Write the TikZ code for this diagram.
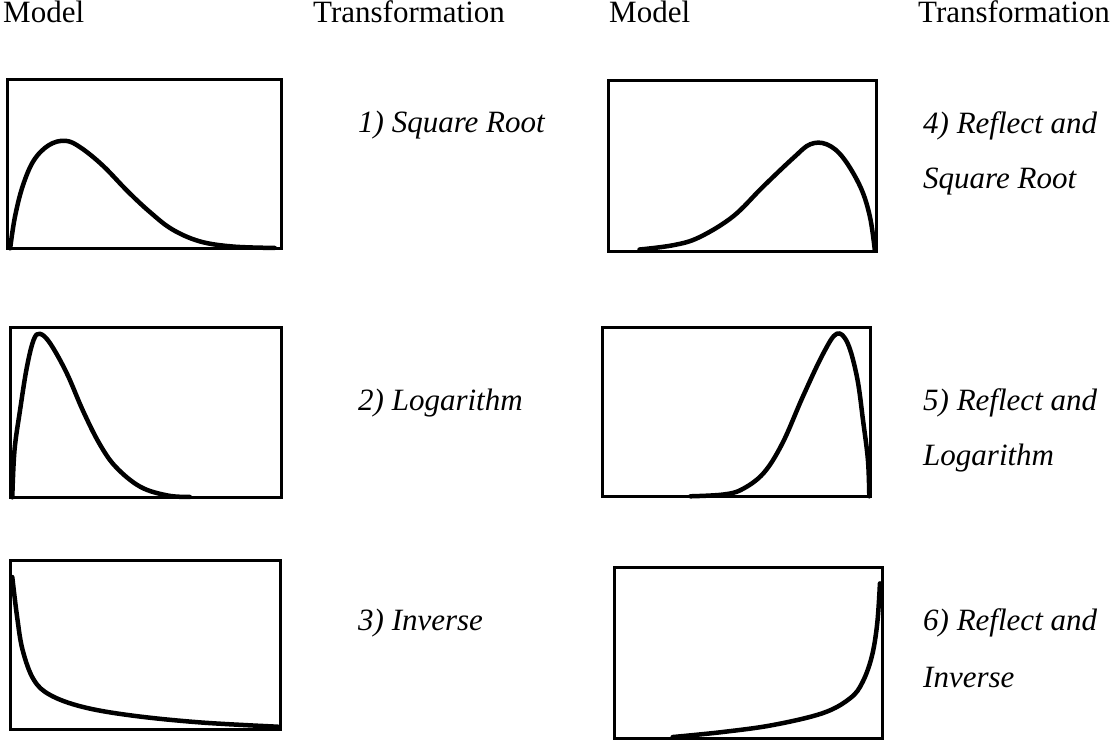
\documentclass[tikz,border=0pt]{standalone}
\usepackage{fontspec}
\setmainfont{Liberation Serif}
\begin{document}
\begin{tikzpicture}[x=1pt,y=-1pt,
  lbl/.style={anchor=base west, inner sep=0pt, font=\fontsize{31}{37}\selectfont},
  ital/.style={anchor=base west, inner sep=0pt, font=\fontsize{31}{37}\selectfont\itshape},
  frame/.style={line width=3pt},
  curve/.style={line width=4.5pt, line join=round, line cap=round}]
\useasboundingbox (0,0) rectangle (1117,744);
\fill[white] (0,0) rectangle (1117,744);

% headings
\node[lbl] (m1) at (3,23) {Model};
\node[lbl] (t1) at (313,23) {Transformation};
\node[lbl] (m2) at (609,23) {Model};
\node[lbl] (t2) at (918,23) {Transformation};

% labels
\node[ital] (l1) at (358,132) {1) Square Root};
\node[ital] (l2) at (358,410) {2) Logarithm};
\node[ital] (l3) at (358,630) {3) Inverse};
\node[ital] (l4a) at (923,133) {4) Reflect and};
\node[ital] (l4b) at (923,188) {Square Root};
\node[ital] (l5a) at (923,410) {5) Reflect and};
\node[ital] (l5b) at (923,465) {Logarithm};
\node[ital] (l6a) at (923,630) {6) Reflect and};
\node[ital] (l6b) at (923,687) {Inverse};

% frames
\draw[frame] (7.5,79.5) rectangle (281.5,248.5);
\draw[frame] (10.5,327.5) rectangle (281.5,497.5);
\draw[frame] (10.5,560.5) rectangle (280.5,729.5);
\draw[frame] (608.5,80.5) rectangle (876.5,251.5);
\draw[frame] (602.5,327.5) rectangle (870.5,496.5);
\draw[frame] (614.5,567.5) rectangle (882.5,738.5);

% curve 1
\begin{scope}[shift={(6,250)}, x=277pt, y=172pt]
\draw[curve] plot[smooth, tension=0.6] coordinates {(0.015,0.01) (0.032,0.19) (0.06,0.37) (0.10,0.52) (0.155,0.61) (0.215,0.635) (0.27,0.595) (0.35,0.49) (0.44,0.34) (0.52,0.22) (0.60,0.12) (0.70,0.05) (0.82,0.02) (0.97,0.012)};
\end{scope}
% curve 2
\begin{scope}[shift={(9,499)}, x=274pt, y=173pt]
\draw[curve] plot[smooth, tension=0.6] coordinates {(0.012,0.01) (0.02,0.28) (0.04,0.51) (0.065,0.76) (0.09,0.92) (0.113,0.955) (0.15,0.90) (0.21,0.73) (0.27,0.51) (0.33,0.32) (0.39,0.185) (0.48,0.07) (0.58,0.02) (0.66,0.012)};
\end{scope}
% curve 3
\begin{scope}[shift={(9,731)}, x=273pt, y=172pt]
\draw[curve] plot[smooth, tension=0.6] coordinates {(0.012,0.895) (0.03,0.66) (0.05,0.47) (0.09,0.30) (0.15,0.21) (0.27,0.14) (0.45,0.09) (0.70,0.05) (0.985,0.025)};
\end{scope}
% curve 4
\begin{scope}[shift={(607,253)}, x=271pt, y=174pt]
\draw[curve] plot[smooth, tension=0.6] coordinates {(0.12,0.02) (0.245,0.045) (0.34,0.09) (0.465,0.21) (0.575,0.38) (0.69,0.55) (0.75,0.625) (0.81,0.625) (0.87,0.55) (0.935,0.38) (0.97,0.21) (0.988,0.02)};
\end{scope}
% curve 5
\begin{scope}[shift={(601,498)}, x=271pt, y=172pt]
\draw[curve] plot[smooth, tension=0.6] coordinates {(0.33,0.01) (0.45,0.02) (0.52,0.05) (0.60,0.145) (0.67,0.32) (0.745,0.59) (0.82,0.84) (0.87,0.955) (0.91,0.90) (0.945,0.70) (0.967,0.45) (0.985,0.22) (0.99,0.01)};
\end{scope}
% curve 6
\begin{scope}[shift={(613,740)}, x=271pt, y=174pt]
\draw[curve] plot[smooth, tension=0.6] coordinates {(0.22,0.017) (0.405,0.046) (0.59,0.086) (0.775,0.155) (0.875,0.24) (0.92,0.33) (0.955,0.48) (0.975,0.67) (0.985,0.90)};
\end{scope}
\end{tikzpicture}
\end{document}
